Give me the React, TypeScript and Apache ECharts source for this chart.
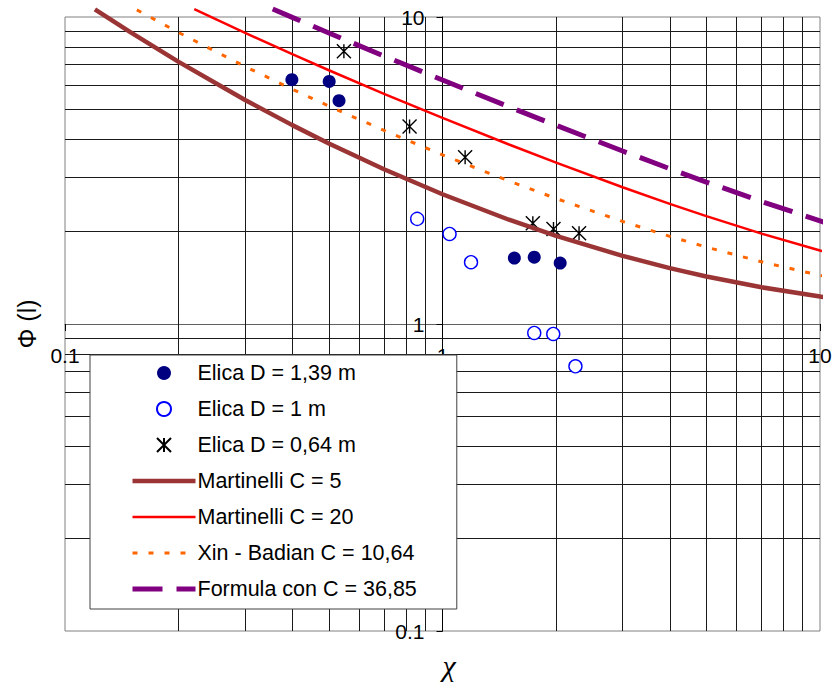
import React, { useEffect, useRef } from 'react';
import * as echarts from 'echarts';

// ---- Data ----
// Measured points (χ, Φ)
const elica139X = [0.399, 0.501, 0.532, 1.55, 1.75, 2.05];
const elica139Y = [6.25, 6.17, 5.34, 1.64, 1.65, 1.58];
const elica100X = [0.857, 1.044, 1.19, 1.75, 1.965, 2.25];
const elica100Y = [2.2, 1.965, 1.59, 0.935, 0.928, 0.728];
const elica064X = [0.548, 0.818, 1.148, 1.735, 1.968, 2.3];
const elica064Y = [7.73, 4.4, 3.49, 2.13, 2.04, 1.975];

// Curves (χ, Φ)
const martinelli5X = [0.12, 0.15, 0.2, 0.3, 0.4, 0.5, 0.7, 1, 1.5, 2, 3, 4, 5, 7, 10, 10.5];
const martinelli5Y = [10.59, 8.876, 7.141, 5.365, 4.444, 3.873, 3.191, 2.646, 2.186, 1.936, 1.667, 1.521, 1.428, 1.317, 1.229, 1.219];
const martinelli20X = [0.22, 0.3, 0.4, 0.5, 0.7, 1, 1.5, 2, 3, 4, 5, 7, 10, 10.5];
const martinelli20Y = [10.61, 8.876, 7.566, 6.708, 5.622, 4.69, 3.844, 3.354, 2.789, 2.462, 2.245, 1.969, 1.735, 1.707];
const xinBadianX = [0.155, 0.2, 0.3, 0.4, 0.5, 0.7, 1, 1.5, 2, 3, 4, 5, 7, 10, 10.5];
const xinBadianY = [10.55, 8.899, 6.898, 5.818, 5.126, 4.271, 3.555, 2.922, 2.563, 2.158, 1.929, 1.78, 1.594, 1.44, 1.422];
const formulaX = [0.355, 0.4, 0.5, 0.7, 1, 1.5, 2, 3, 4, 5, 7, 10, 10.5];
const formulaY = [10.62, 9.969, 8.871, 7.462, 6.233, 5.1, 4.436, 3.66, 3.205, 2.9, 2.507, 2.167, 2.126];

// Minor grid values of the log axes
const minorGrid = [0.2, 0.3, 0.4, 0.5, 0.6, 0.7, 0.8, 0.9, 2, 3, 4, 5, 6, 7, 8, 9];

const seriesNames = [
  'Elica D = 1,39 m',
  'Elica D = 1 m',
  'Elica D = 0,64 m',
  'Martinelli C = 5',
  'Martinelli C = 20',
  'Xin - Badian C = 10,64',
  'Formula con C = 36,85',
];

const FONT = '"Liberation Sans", Arial, sans-serif';

const pairs = (xs: number[], ys: number[]) => xs.map((x, i) => [x, ys[i]]);

const hiddenSymbol = { color: 'rgba(0,0,0,0)', borderWidth: 0, opacity: 0 };

export default function App() {
  const ref = useRef<HTMLDivElement>(null);

  useEffect(() => {
    if (!ref.current) return;
    const chart = echarts.init(ref.current, null, { renderer: 'svg' });

    const gridLeft = 65;
    const gridTop = 17;
    const gridW = 755;
    const gridH = 614;

    const fmt = (v: number) => String(Number(v.toPrecision(3)));

    const option: any = {
      animation: false,
      backgroundColor: '#ffffff',
      grid: {
        left: gridLeft,
        top: gridTop,
        width: gridW,
        height: gridH,
        containLabel: false,
        outerBoundsMode: 'none',
        show: true,
        borderColor: '#808080',
        borderWidth: 1,
        backgroundColor: 'transparent',
      },
      xAxis: {
        type: 'log',
        logBase: 10,
        min: 0.1,
        max: 10,
        position: 'bottom',
        offset: -gridH / 2,
        axisLine: { show: true, onZero: false, lineStyle: { color: '#606060', width: 1 } },
        axisTick: { show: true, inside: false, length: 7, lineStyle: { color: '#000' } },
        axisLabel: { fontSize: 21, color: '#000', margin: 21, fontFamily: FONT, formatter: fmt },
        splitLine: { show: false },
        minorTick: { show: false },
      },
      yAxis: {
        type: 'log',
        logBase: 10,
        min: 0.1,
        max: 10,
        position: 'left',
        offset: -gridW / 2,
        axisLine: { show: true, onZero: false, lineStyle: { color: '#000', width: 1 } },
        axisTick: { show: true, inside: false, length: 6, lineStyle: { color: '#000' } },
        axisLabel: { fontSize: 21, color: '#000', margin: 18, fontFamily: FONT, formatter: fmt },
        splitLine: { show: false },
        minorTick: { show: false },
      },
      legend: {
        orient: 'vertical',
        left: 90,
        top: 355,
        padding: [7, 40, 9, 40],
        itemWidth: 63,
        itemHeight: 14,
        itemGap: 14,
        backgroundColor: '#ffffff',
        borderColor: '#404040',
        borderWidth: 1,
        borderRadius: 0,
        selectedMode: false,
        textStyle: { fontSize: 21.5, lineHeight: 22, color: '#000', fontFamily: FONT, padding: [0, 0, 0, -3] },
        data: [
          { name: seriesNames[0] },
          { name: seriesNames[1] },
          { name: seriesNames[2] },
          { name: seriesNames[3], lineStyle: { width: 4.5 }, itemStyle: hiddenSymbol },
          { name: seriesNames[4], lineStyle: { width: 2.5 }, itemStyle: hiddenSymbol },
          { name: seriesNames[5], lineStyle: { width: 3 }, itemStyle: hiddenSymbol },
          { name: seriesNames[6], lineStyle: { width: 5 }, itemStyle: hiddenSymbol },
        ],
      },
      graphic: [
        {
          type: 'text',
          x: 27,
          y: 324,
          rotation: Math.PI / 2,
          style: {
            text: 'Φ (l)',
            font: `25px ${FONT}`,
            fill: '#000',
            align: 'center',
            verticalAlign: 'middle',
          },
        },
        {
          type: 'text',
          x: 449,
          y: 665,
          style: {
            text: 'χ',
            font: 'italic 30px "Liberation Serif", "Times New Roman", serif',
            fill: '#000',
            align: 'center',
            verticalAlign: 'middle',
          },
        },
      ],
      series: [
        {
          name: seriesNames[0],
          type: 'scatter',
          symbol: 'circle',
          symbolSize: 13,
          itemStyle: { color: '#000080', opacity: 1 },
          data: pairs(elica139X, elica139Y),
          z: 3,
          markLine: {
            silent: true,
            z: 1,
            symbol: ['none', 'none'],
            label: { show: false },
            emphasis: { disabled: true },
            lineStyle: { color: '#1a1a1a', width: 1, type: 'solid', opacity: 1 },
            data: [
              ...minorGrid.map((v) => ({ xAxis: v })),
              ...minorGrid.map((v) => ({ yAxis: v })),
            ],
          },
        },
        {
          name: seriesNames[1],
          type: 'scatter',
          symbol: 'circle',
          symbolSize: 13,
          itemStyle: { color: '#ffffff', borderColor: '#0000ff', borderWidth: 1.4, opacity: 1 },
          data: pairs(elica100X, elica100Y),
          z: 3,
        },
        {
          name: seriesNames[2],
          type: 'scatter',
          symbol: 'path://M0 0L10 10M10 0L0 10M5 0L5 10',
          symbolSize: 14,
          itemStyle: { color: 'rgba(0,0,0,0)', borderColor: '#000', borderWidth: 1.4, opacity: 1 },
          data: pairs(elica064X, elica064Y),
          z: 3,
        },
        {
          name: seriesNames[3],
          type: 'line',
          symbol: 'none',
          clip: false,
          lineStyle: { color: '#9b3535', width: 4.5 },
          itemStyle: { color: '#9b3535' },
          data: pairs(martinelli5X, martinelli5Y),
          z: 4,
        },
        {
          name: seriesNames[4],
          type: 'line',
          symbol: 'none',
          clip: false,
          lineStyle: { color: '#ff0000', width: 2.5 },
          itemStyle: { color: '#ff0000' },
          data: pairs(martinelli20X, martinelli20Y),
          z: 4,
        },
        {
          name: seriesNames[5],
          type: 'line',
          symbol: 'none',
          clip: false,
          lineStyle: { color: '#ff6600', width: 3, type: [5, 11] },
          itemStyle: { color: '#ff6600' },
          data: pairs(xinBadianX, xinBadianY),
          z: 4,
        },
        {
          name: seriesNames[6],
          type: 'line',
          symbol: 'none',
          clip: false,
          lineStyle: { color: '#800080', width: 5, type: [30, 14] },
          itemStyle: { color: '#800080' },
          data: pairs(formulaX, formulaY),
          z: 4,
        },
      ],
    };

    chart.setOption(option);
    return () => chart.dispose();
  }, []);

  return (
    <div
      ref={ref}
      style={{ position: 'absolute', left: 0, top: 0, width: 834, height: 684, background: '#fff' }}
    />
  );
}
